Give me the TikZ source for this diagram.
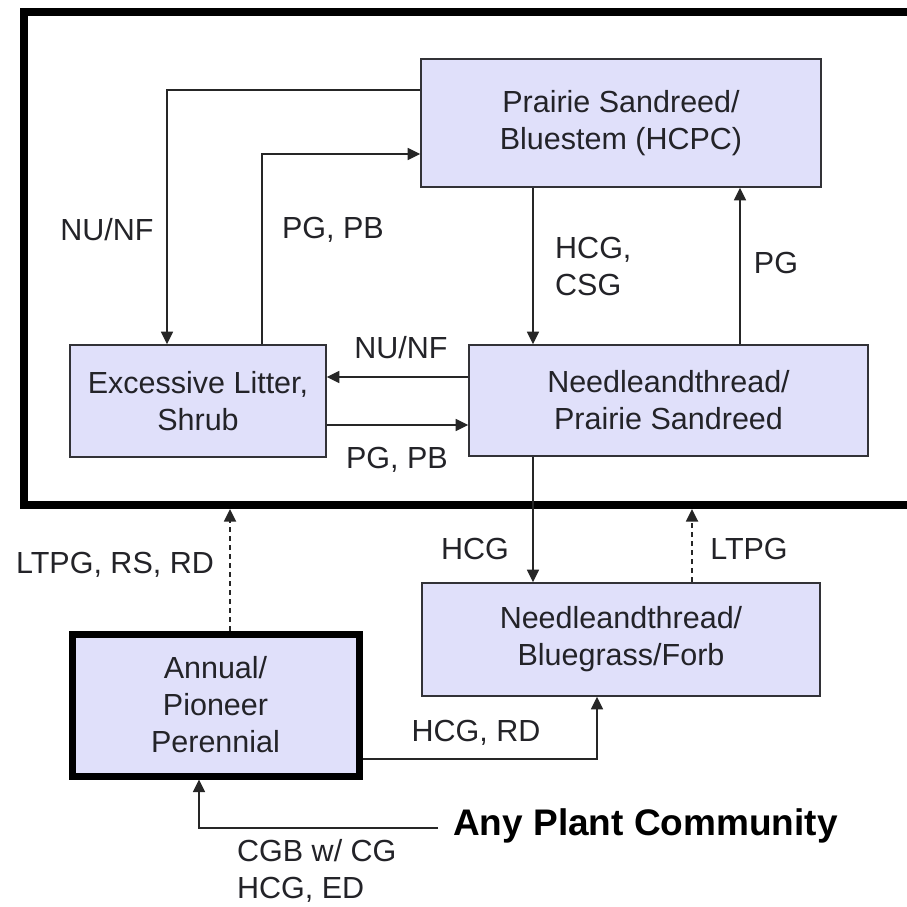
\documentclass[tikz,border=0pt]{standalone}
\usepackage{fontspec}
\setmainfont{Liberation Sans}
\usetikzlibrary{arrows.meta}
\definecolor{boxfill}{RGB}{224,224,250}
\definecolor{boxline}{RGB}{50,50,55}
\definecolor{txt}{RGB}{35,35,40}
\begin{document}
\begin{tikzpicture}[x=1pt,y=-1pt,
  every node/.style={font=\fontsize{30.5}{37}\selectfont, text=txt},
  statebox/.style={draw=boxline, fill=boxfill, line width=1.6pt, align=center, inner sep=0pt},
  lbl/.style={inner sep=0pt},
  arr/.style={draw=black!85, line width=1.4pt, -{Triangle[length=12.5pt,width=12pt]}},
  darr/.style={arr, dash pattern=on 5pt off 4pt, line width=1.8pt}]
\useasboundingbox (0,0) rectangle (907,906);
\fill[white] (0,0) rectangle (907,906);
% main frame
\node[draw=black, line width=8pt, minimum width=891pt, minimum height=493.5pt, inner sep=0pt] (frame) at (469.5,258.25) {};
% states
\node[statebox, minimum width=400pt, minimum height=128pt] (hcpc) at (621,123) {Prairie Sandreed/\\Bluestem (HCPC)};
\node[statebox, minimum width=256pt, minimum height=112pt] (exc) at (198,401) {Excessive Litter,\\Shrub};
\node[statebox, minimum width=399pt, minimum height=111pt] (np) at (668.5,400.5) {Needleandthread/\\Prairie Sandreed};
\node[statebox, minimum width=398pt, minimum height=113pt] (nbf) at (621,639.5) {Needleandthread/\\Bluegrass/Forb};
\node[statebox, draw=black, line width=7pt, minimum width=287pt, minimum height=142pt] (ann) at (215.5,705) {Annual/\\Pioneer\\Perennial};
\node[lbl, anchor=west, font=\fontsize{37}{40}\selectfont\bfseries, text=black] (apc) at (453,826) {Any Plant Community};
% connectors
\draw[arr] (hcpc.west |- 0,90) -| (167,0 |- exc.north);
\draw[arr] (262,0 |- exc.north) |- (hcpc.west |- 0,154);
\draw[arr] (533,0 |- hcpc.south) -- (533,0 |- np.north);
\draw[arr] (740,0 |- np.north) -- (740,0 |- hcpc.south);
\draw[arr] (np.west |- 0,377) -- (exc.east |- 0,377);
\draw[arr] (exc.east |- 0,425) -- (np.west |- 0,425);
\draw[arr] (533,0 |- np.south) -- (533,0 |- nbf.north);
\draw[darr] (692,0 |- nbf.north) -- (692,0 |- frame.south);
\draw[darr] (230,0 |- ann.north) -- (230,0 |- frame.south);
\draw[arr] (ann.east |- 0,759) -| (597,0 |- nbf.south);
\draw[arr] ([xshift=-15pt,yshift=-2pt]apc.west) -| (199,0 |- ann.south);
% labels
\node[lbl] (l1) at (107,230) {NU/NF};
\node[lbl] (l2) at (333,230) {PG, PB};
\node[lbl, anchor=west, align=left] (l3) at (555,266) {HCG,\\CSG};
\node[lbl] (l4) at (776,263) {PG};
\node[lbl] (l5) at (401,348) {NU/NF};
\node[lbl] (l6) at (397,460) {PG, PB};
\node[lbl] (l7) at (475,549) {HCG};
\node[lbl] (l8) at (749,549) {LTPG};
\node[lbl] (l9) at (115,565) {LTPG, RS, RD};
\node[lbl] (l10) at (476,733) {HCG, RD};
\node[lbl, anchor=west, align=left] (l11) at (237,871) {CGB w/ CG\\HCG, ED};
\end{tikzpicture}
\end{document}
